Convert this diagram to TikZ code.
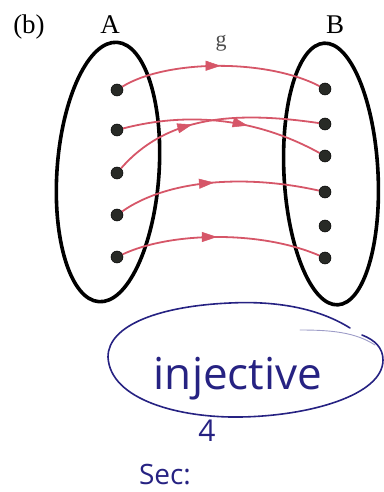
\documentclass[tikz,border=0pt]{standalone}
\usepackage{fontspec}
\setmainfont{Liberation Serif}
\newfontfamily\handfont{Open Sans}
\usetikzlibrary{arrows.meta,decorations.markings,shapes.geometric}
\definecolor{mapred}{RGB}{214,86,104}
\definecolor{inkblue}{RGB}{38,34,130}
\definecolor{dotgray}{RGB}{40,42,38}
\tikzset{
  setell/.style={draw=black, line width=3.6pt, shape=ellipse, inner sep=0pt},
  elem/.style={circle, fill=dotgray, draw=black, line width=0.5pt, minimum size=12pt, inner sep=0pt},
  maparrow/.style={draw=mapred, line width=1.8pt,
    postaction={decorate},
    decoration={markings, mark=at position #1 with {\arrow[mapred, line width=0.5pt]{Triangle[length=15pt,width=10pt]}}}},
  maparrow/.default=0.5,
  lbl/.style={font=\fontsize{27}{29}\selectfont, inner sep=0pt},
  hand/.style={text=inkblue, inner sep=0pt, font=\handfont\fontsize{44}{48}\selectfont}
}
\begin{document}
\begin{tikzpicture}[x=1pt,y=-1pt]
\useasboundingbox (0,0) rectangle (383,492);
% labels
\node[lbl] (lb) at (29,27) {(b)};
\node[lbl] (lA) at (110,25) {A};
\node[lbl] (lB) at (335,25) {B};
\node[lbl, font=\fontsize{22}{24}\selectfont, text=black!70] (lg) at (221,43) {g};
% sets
\node[setell, minimum width=102pt, minimum height=260pt, rotate=-4] (SA) at (108,172) {};
\node[setell, minimum width=94pt, minimum height=262pt, rotate=3] (SB) at (331,174) {};
% elements
\node[elem] (a1) at (117,90) {};
\node[elem] (a2) at (117,130) {};
\node[elem] (a3) at (117,173) {};
\node[elem] (a4) at (117,215) {};
\node[elem] (a5) at (117,257) {};
\node[elem] (b1) at (325,89) {};
\node[elem] (b2) at (325,124) {};
\node[elem] (b3) at (325,156) {};
\node[elem] (b4) at (325,192) {};
\node[elem] (b5) at (325,226) {};
\node[elem] (b6) at (325,258) {};
% mapping g
\path[maparrow=0.5] (a1) .. controls (165,60) and (265,58) .. (b1);
\path[maparrow=0.62] (a2) .. controls (175,115) and (245,112) .. (b3);
\path[maparrow=0.4] (a3) .. controls (165,118) and (230,110) .. (b2);
\path[maparrow=0.48] (a4) .. controls (170,178) and (250,175) .. (b4);
\path[maparrow=0.48] (a5) .. controls (170,232) and (260,230) .. (b6);
% handwritten annotation
\draw[inkblue, line width=1.6pt, line cap=round]
  (350,328) .. controls (315,306) and (270,301) .. (230,303)
  .. controls (160,306) and (108,325) .. (108,357)
  .. controls (110,400) and (180,418) .. (240,417)
  .. controls (310,416) and (383,395) .. (383,360)
  .. controls (383,348) and (375,340) .. (362,335);
\draw[inkblue!45, line width=0.9pt, line cap=round]
  (300,330) .. controls (330,330) and (355,332) .. (375,345);
\node[hand, anchor=base] (inj) at (238,389) {injective};
\node[hand, font=\handfont\fontsize{30}{32}\selectfont] (four) at (207,431) {4};
\node[hand, font=\handfont\fontsize{28}{30}\selectfont] (sec) at (165,475) {Sec:};
\end{tikzpicture}
\end{document}
